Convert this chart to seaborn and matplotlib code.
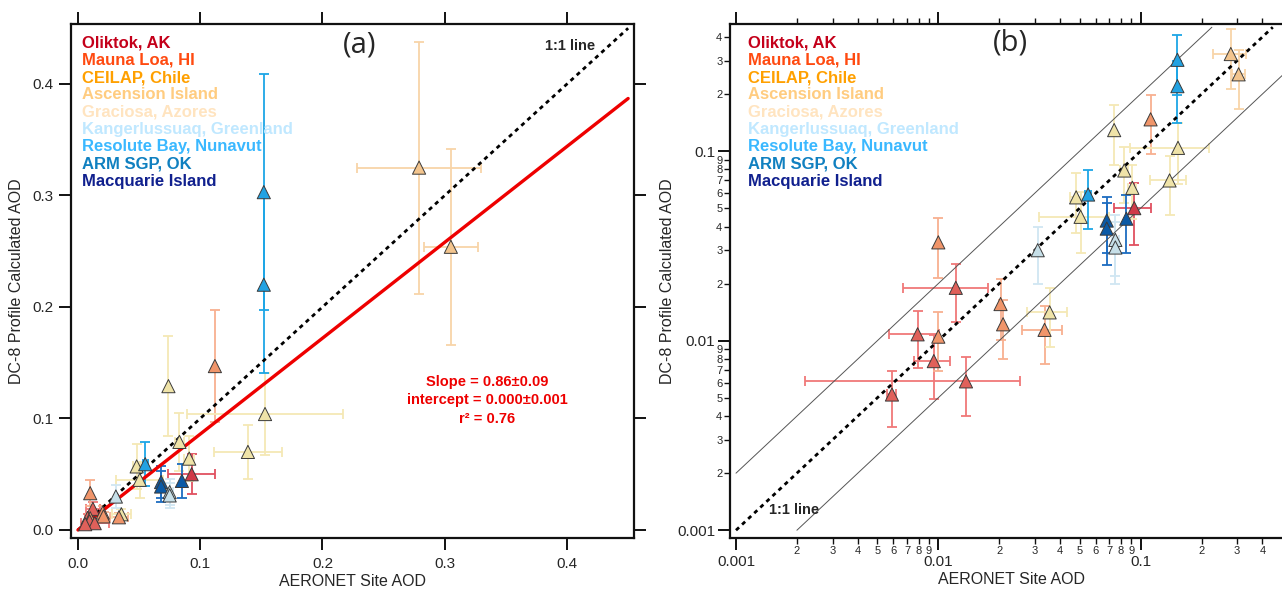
import numpy as np
import pandas as pd
import matplotlib
matplotlib.use("Agg")
import matplotlib.pyplot as plt
import seaborn as sns
from matplotlib.ticker import FixedLocator, FixedFormatter

# sites (legend order) and colours
site_names = ["Oliktok, AK", "Mauna Loa, HI", "CEILAP, Chile", "Ascension Island",
              "Graciosa, Azores", "Kangerlussuaq, Greenland", "Resolute Bay, Nunavut",
              "ARM SGP, OK", "Macquarie Island"]
legend_colors = ["#c4001a", "#ff4a10", "#ffa000", "#ffcc80", "#ffe4c0",
                 "#c0e8ff", "#3ab8ff", "#1080c0", "#10208e"]
marker_colors = ["#d03a48", "#e0605a", "#f0956a", "#f3c58e", "#efe3a8",
                 "#c6dfe8", "#22a2e2", "#0b5aa6", "#10208e"]
errbar_colors = ["#e05060", "#f07878", "#f8b090", "#f8d4a8", "#f5e8b5",
                 "#d0e6f2", "#1ca6e6", "#1c6cc0", "#2030a0"]

# profile comparisons
point_site = ["Resolute Bay, Nunavut", "Resolute Bay, Nunavut", "Ascension Island", "Ascension Island",
              "CEILAP, Chile", "Graciosa, Azores", "Graciosa, Azores", "Graciosa, Azores",
              "Graciosa, Azores", "Graciosa, Azores", "Oliktok, AK", "Graciosa, Azores",
              "Graciosa, Azores", "Resolute Bay, Nunavut", "ARM SGP, OK", "ARM SGP, OK",
              "ARM SGP, OK", "Kangerlussuaq, Greenland", "Kangerlussuaq, Greenland",
              "Kangerlussuaq, Greenland", "CEILAP, Chile", "Mauna Loa, HI", "CEILAP, Chile",
              "CEILAP, Chile", "Graciosa, Azores", "CEILAP, Chile", "Mauna Loa, HI",
              "CEILAP, Chile", "Mauna Loa, HI", "Mauna Loa, HI", "Mauna Loa, HI"]
aeronet_aod = [0.152, 0.152, 0.279, 0.305, 0.112, 0.074, 0.153, 0.083, 0.139, 0.091, 0.093,
               0.048, 0.0505, 0.055, 0.068, 0.068, 0.085, 0.075, 0.075, 0.031, 0.010,
               0.0122, 0.0203, 0.0209, 0.0355, 0.0335, 0.0079, 0.010, 0.0095, 0.0137, 0.0059]
dc8_aod = [0.303, 0.220, 0.325, 0.254, 0.147, 0.129, 0.104, 0.079, 0.070, 0.064, 0.050,
           0.057, 0.045, 0.059, 0.043, 0.039, 0.044, 0.034, 0.031, 0.030, 0.033,
           0.019, 0.0156, 0.0122, 0.0141, 0.0114, 0.0108, 0.0105, 0.0078, 0.0061, 0.0052]
aeronet_err = [0.0, 0.0, 0.051, 0.022, 0.0, 0.0, 0.064, 0.004, 0.028, 0.004, 0.019,
               0.003, 0.019, 0.002, 0.0, 0.0, 0.0, 0.003, 0.003, 0.0, 0.0,
               0.0055, 0.0, 0.0, 0.008, 0.0075, 0.0022, 0.0, 0.0019, 0.0115, 0.0003]
dc8_err = [0.106, 0.079, 0.113, 0.088, 0.050, 0.045, 0.037, 0.026, 0.024, 0.020, 0.018,
           0.020, 0.016, 0.020, 0.014, 0.014, 0.015, 0.012, 0.011, 0.010, 0.0115,
           0.0064, 0.0055, 0.0042, 0.0048, 0.0039, 0.0036, 0.0036, 0.0029, 0.0021, 0.0017]

fit_slope = 0.86
fit_intercept = 0.0
fit_text = ["Slope = 0.86\u00b10.09", "intercept = 0.000\u00b10.001", "r\u00b2 = 0.76"]

df = pd.DataFrame({"site": point_site, "x": aeronet_aod, "y": dc8_aod,
                   "xerr": aeronet_err, "yerr": dc8_err})
marker_pal = dict(zip(site_names, marker_colors))
err_pal = dict(zip(site_names, errbar_colors))

sns.set_style("ticks")
plt.rcParams["font.family"] = ["Liberation Sans", "DejaVu Sans"]

fig = plt.figure(figsize=(12.82, 5.90), dpi=100)
ax_a = fig.add_axes([71 / 1282, 52 / 590, 563 / 1282, 514 / 590])
ax_b = fig.add_axes([730 / 1282, 52 / 590, 562 / 1282, 514 / 590])


def draw_points(ax):
    for site in site_names:
        sub = df[df["site"] == site]
        if sub.empty:
            continue
        ax.errorbar(sub["x"], sub["y"], yerr=sub["yerr"], fmt="none", ecolor=err_pal[site],
                    elinewidth=1.3, capsize=3.8, capthick=1.3, zorder=2)
        hx = sub[sub["xerr"] > 0]
        if not hx.empty:
            ax.errorbar(hx["x"], hx["y"], xerr=hx["xerr"], fmt="none", ecolor=err_pal[site],
                        elinewidth=1.3, capsize=3.8, capthick=1.3, zorder=2)
    sns.scatterplot(data=df, x="x", y="y", hue="site", hue_order=site_names, palette=marker_pal,
                    marker="^", s=90, edgecolor="#3a3a3a", linewidth=0.7, legend=False,
                    ax=ax, zorder=4)


def site_legend(ax, x0):
    for i, (name, col) in enumerate(zip(site_names, legend_colors)):
        ax.text(x0, 0.963 - i * 0.0337, name, color=col, fontsize=12, fontweight="bold",
                transform=ax.transAxes, ha="left", va="center", zorder=6)


def style_axes(ax):
    for sp in ax.spines.values():
        sp.set_linewidth(1.6)
        sp.set_color("#111111")
    ax.tick_params(which="both", direction="out", top=True, right=True, color="#111111")
    ax.tick_params(which="major", length=8.5, width=1.4, labelsize=11)
    ax.set_xlabel("AERONET Site AOD", fontsize=11.5, labelpad=2)
    ax.set_ylabel("DC-8 Profile Calculated AOD", fontsize=11.5)


# ---------- panel (a): linear ----------
draw_points(ax_a)
line = np.array([0.0, 0.45])
ax_a.plot(line, line, color="black", lw=2, ls=(0, (1.5, 1.5)), zorder=3)
ax_a.plot(line, fit_slope * line + fit_intercept, color="#ee0000", lw=2.4, zorder=3)
ax_a.set_xlim(-0.0057, 0.4548)
ax_a.set_ylim(-0.0072, 0.4538)
ax_a.set_xticks([0.0, 0.1, 0.2, 0.3, 0.4])
ax_a.set_yticks([0.0, 0.1, 0.2, 0.3, 0.4])
ax_a.set_xticklabels(["0.0", "0.1", "0.2", "0.3", "0.4"])
ax_a.set_yticklabels(["0.0", "0.1", "0.2", "0.3", "0.4"])
style_axes(ax_a)
ax_a.tick_params(axis="x", which="major", pad=5)
ax_a.tick_params(axis="y", which="major", pad=4)
ax_a.yaxis.labelpad = 6
site_legend(ax_a, 0.0196)
ax_a.text(0.2307, 0.435, "(a)", fontsize=21, family=["Open Sans", "DejaVu Sans"],
          ha="center", va="center")
ax_a.text(0.4025, 0.434, "1:1 line", fontsize=10.5, fontweight="bold", ha="center", va="center")
for i, t in enumerate(fit_text):
    ax_a.text(0.335, 0.1327 - i * 0.0165, t, color="#ee0000", fontsize=10.5,
              fontweight="bold", ha="center", va="center")

# ---------- panel (b): log-log ----------
ax_b.set_xscale("log")
ax_b.set_yscale("log")
draw_points(ax_b)
one = np.array([0.001, 0.45])
ax_b.plot(one, one, color="black", lw=2, ls=(0, (1.5, 1.5)), zorder=3)
up = np.array([0.001, 0.225])
ax_b.plot(up, 2 * up, color="#555555", lw=0.7, zorder=3)
lo = np.array([0.002, 0.6])
ax_b.plot(lo, 0.5 * lo, color="#555555", lw=0.7, zorder=3)
ax_b.set_xlim(0.000934, 0.56)
ax_b.set_ylim(0.00091, 0.468)

major = [0.001, 0.01, 0.1]
major_lab = ["0.001", "0.01", "0.1"]
minor = [k * 10.0 ** e for e in (-3, -2) for k in range(2, 10)] + [0.2, 0.3, 0.4]
minor_lab = [str(k) for e in (-3, -2) for k in range(2, 10)] + ["2", "3", "4"]
for axis in (ax_b.xaxis, ax_b.yaxis):
    axis.set_major_locator(FixedLocator(major))
    axis.set_major_formatter(FixedFormatter(major_lab))
    axis.set_minor_locator(FixedLocator(minor))
    axis.set_minor_formatter(FixedFormatter(minor_lab))
style_axes(ax_b)
ax_b.tick_params(axis="x", which="major", pad=4)
ax_b.tick_params(axis="y", which="major", pad=2)
ax_b.tick_params(which="minor", length=4.5, width=1.0, labelsize=8, pad=1)
ax_b.yaxis.labelpad = 2
site_legend(ax_b, 0.0320)
ax_b.text(0.0227, 0.371, "(b)", fontsize=21, family=["Open Sans", "DejaVu Sans"],
          ha="center", va="center")
ax_b.text(0.00194, 0.00128, "1:1 line", fontsize=10.5, fontweight="bold",
          ha="center", va="center")

fig.savefig("out.png", dpi=100)
